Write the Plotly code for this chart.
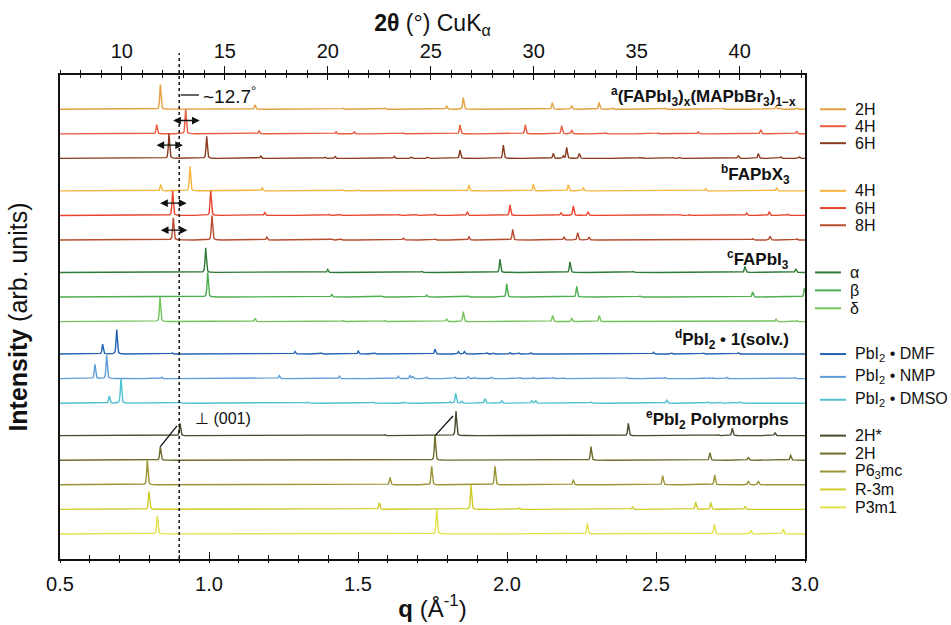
import numpy as np
import plotly.graph_objects as go

# ---------------------------------------------------------------------------
# Peak tables: position q (1/Å) and relative intensity for each pattern
# ---------------------------------------------------------------------------
# (a) (FAPbI3)x(MAPbBr3)1-x hexagonal polytypes
mix_2h_q = [0.8367, 1.1544, 1.4508, 1.5906, 1.7975, 1.8534, 2.152, 2.217, 2.309, 2.3546, 2.530, 2.7259, 2.9027, 2.916, 2.972]
mix_2h_i = [1.0, 0.17, 0.05, 0.05, 0.13, 0.47, 0.27, 0.15, 0.28, 0.05, 0.04, 0.04, 0.12, 0.05, 0.05]
mix_4h_q = [0.8244, 0.9217, 1.1678, 1.4262, 1.4877, 1.652, 1.8423, 2.0615, 2.1835, 2.217, 2.331, 2.5057, 2.642, 2.8513, 2.972]
mix_4h_i = [0.37, 1.0, 0.12, 0.08, 0.08, 0.04, 0.37, 0.37, 0.33, 0.15, 0.05, 0.04, 0.08, 0.17, 0.10]
mix_6h_q = [0.8658, 0.9923, 1.1735, 1.3893, 1.4228, 1.6218, 1.680, 1.7326, 1.8423, 1.9876, 2.1554, 2.189, 2.2003, 2.2426, 2.4463, 2.457, 2.558, 2.5805, 2.7762, 2.8433, 2.9185, 2.981]
mix_6h_i = [1.0, 0.9, 0.10, 0.05, 0.08, 0.08, 0.05, 0.04, 0.34, 0.54, 0.20, 0.10, 0.45, 0.20, 0.04, 0.04, 0.04, 0.04, 0.12, 0.20, 0.06, 0.06]

# (b) FAPbX3 hexagonal polytypes
fax_4h_q = [0.8377, 0.9362, 1.1789, 1.4508, 1.501, 1.8725, 2.0883, 2.2057, 2.256, 2.3624, 2.6667, 2.905]
fax_4h_i = [0.26, 1.0, 0.12, 0.04, 0.04, 0.24, 0.27, 0.24, 0.12, 0.03, 0.08, 0.12]
fax_6h_q = [0.878, 1.0057, 1.187, 1.4037, 1.4396, 1.6386, 1.6946, 1.7584, 1.8668, 2.010, 2.1812, 2.2226, 2.2718, 2.3624, 2.5805, 2.6118, 2.8043, 2.880, 2.942]
fax_6h_i = [1.0, 1.0, 0.12, 0.04, 0.04, 0.04, 0.04, 0.05, 0.15, 0.43, 0.12, 0.39, 0.15, 0.03, 0.04, 0.04, 0.10, 0.15, 0.05]
fax_8h_q = [0.8802, 1.010, 1.1936, 1.4117, 1.442, 1.652, 1.7584, 1.8725, 2.0191, 2.1913, 2.2373, 2.2752, 2.368, 2.491, 2.6252, 2.8245, 2.8826, 2.972]
fax_8h_i = [0.9, 1.0, 0.12, 0.04, 0.04, 0.08, 0.04, 0.13, 0.43, 0.12, 0.30, 0.12, 0.03, 0.03, 0.03, 0.06, 0.15, 0.05]

# (c) FAPbI3 phases
fai_alpha_q = [0.9889, 1.3983, 1.7137, 1.9765, 2.2114, 2.4239, 2.7987, 2.9688]
fai_alpha_i = [1.0, 0.12, 0.05, 0.54, 0.43, 0.04, 0.24, 0.15]
fai_beta_q = [0.9956, 1.4117, 1.5795, 1.7305, 1.8701, 1.999, 2.2339, 2.4463, 2.8245, 2.998]
fai_beta_i = [1.0, 0.10, 0.04, 0.08, 0.04, 0.54, 0.43, 0.04, 0.20, 0.35]
fai_delta_q = [0.8356, 1.1544, 1.4508, 1.5906, 1.7975, 1.8534, 2.1533, 2.217, 2.3097, 2.9027, 2.972]
fai_delta_i = [1.0, 0.13, 0.04, 0.04, 0.10, 0.40, 0.25, 0.13, 0.25, 0.10, 0.05]

# (d) PbI2 solvates
solv_dmf_q = [0.6431, 0.6903, 0.8769, 1.0895, 1.1432, 1.2886, 1.378, 1.501, 1.557, 1.6185, 1.6633, 1.7584, 1.8366, 1.8567, 1.932, 1.954, 2.010, 2.038, 2.0794, 2.491, 2.5526, 2.6588, 2.7762]
solv_dmf_i = [0.40, 1.0, 0.05, 0.03, 0.03, 0.10, 0.04, 0.12, 0.04, 0.03, 0.03, 0.20, 0.10, 0.10, 0.05, 0.04, 0.06, 0.05, 0.06, 0.07, 0.04, 0.04, 0.05]
solv_nmp_q = [0.6174, 0.6566, 0.8412, 1.2359, 1.3165, 1.4372, 1.4955, 1.5682, 1.6353, 1.6745, 1.6834, 1.7305, 1.8255, 1.8701, 1.8926, 1.9486, 2.0436, 2.0883, 2.1554, 2.189, 2.4016, 2.530, 2.681, 2.6924, 2.737, 2.9664]
solv_nmp_i = [0.58, 0.95, 0.06, 0.12, 0.03, 0.10, 0.03, 0.03, 0.10, 0.12, 0.08, 0.06, 0.06, 0.08, 0.05, 0.06, 0.05, 0.05, 0.05, 0.03, 0.05, 0.05, 0.04, 0.04, 0.06, 0.05]
solv_dmso_q = [0.6655, 0.7047, 0.9027, 1.1298, 1.3312, 1.5493, 1.6577, 1.8087, 1.8278, 1.848, 1.9262, 1.9822, 2.0829, 2.0963, 2.2226, 2.2809, 2.4352, 2.5359, 2.6755, 2.7148, 2.7819]
solv_dmso_i = [0.30, 1.0, 0.04, 0.03, 0.04, 0.05, 0.04, 0.06, 0.40, 0.08, 0.18, 0.10, 0.10, 0.10, 0.03, 0.05, 0.03, 0.12, 0.05, 0.04, 0.05]

# (e) PbI2 polymorphs
pbi_2hs_q = [0.9027, 1.5906, 1.8289, 2.4071, 2.7091, 2.7561, 2.8993]
pbi_2hs_i = [0.50, 0.04, 1.0, 0.50, 0.04, 0.30, 0.12]
pbi_2h_q = [0.8367, 1.5514, 1.680, 1.7584, 2.2819, 2.5134, 2.681, 2.8097, 2.952]
pbi_2h_i = [0.55, 0.03, 0.03, 1.0, 0.55, 0.03, 0.30, 0.12, 0.20]
pbi_p63mc_q = [0.793, 1.6074, 1.7473, 1.9597, 2.2226, 2.3792, 2.5224, 2.6969, 2.8097, 2.8433]
pbi_p63mc_i = [1.0, 0.30, 0.75, 0.75, 0.20, 0.03, 0.37, 0.40, 0.15, 0.15]
pbi_r3m_q = [0.7987, 1.5715, 1.8792, 2.0413, 2.4215, 2.6332, 2.6836, 2.7987]
pbi_r3m_i = [0.72, 0.27, 1.0, 0.06, 0.10, 0.30, 0.28, 0.12]
pbi_p3m1_q = [0.8266, 1.7641, 1.8198, 1.8849, 1.954, 2.0268, 2.105, 2.1869, 2.2695, 2.3567, 2.4463, 2.5359, 2.6309, 2.6956, 2.8188, 2.9272]
pbi_p3m1_i = [0.73, 1.0, 0.03, 0.03, 0.03, 0.03, 0.03, 0.03, 0.43, 0.03, 0.03, 0.03, 0.03, 0.40, 0.15, 0.20]

# Group headings and legend entries
group_titles = [
    "<sup>a</sup>(FAPbI<sub>3</sub>)<sub>x</sub>(MAPbBr<sub>3</sub>)<sub>1−x</sub>",
    "<sup>b</sup>FAPbX<sub>3</sub>",
    "<sup>c</sup>FAPbI<sub>3</sub>",
    "<sup>d</sup>PbI<sub>2</sub> • 1(solv.)",
    "<sup>e</sup>PbI<sub>2</sub> Polymorphs",
]
groups = [
    [("2H", "#E3A040", mix_2h_q, mix_2h_i),
     ("4H", "#EA5A3C", mix_4h_q, mix_4h_i),
     ("6H", "#8A3A1E", mix_6h_q, mix_6h_i)],
    [("4H", "#F6B43E", fax_4h_q, fax_4h_i),
     ("6H", "#E8432C", fax_6h_q, fax_6h_i),
     ("8H", "#B84C30", fax_8h_q, fax_8h_i)],
    [("α", "#2F7A36", fai_alpha_q, fai_alpha_i),
     ("β", "#4DAE52", fai_beta_q, fai_beta_i),
     ("δ", "#74C45C", fai_delta_q, fai_delta_i)],
    [("PbI<sub>2</sub> • DMF", "#2263B2", solv_dmf_q, solv_dmf_i),
     ("PbI<sub>2</sub> • NMP", "#5E9DD8", solv_nmp_q, solv_nmp_i),
     ("PbI<sub>2</sub> • DMSO", "#4FC1CF", solv_dmso_q, solv_dmso_i)],
    [("2H*", "#4A4A2C", pbi_2hs_q, pbi_2hs_i),
     ("2H", "#6F6C2C", pbi_2h_q, pbi_2h_i),
     ("P6<sub>3</sub>mc", "#9B9436", pbi_p63mc_q, pbi_p63mc_i),
     ("R-3m", "#CFCC2A", pbi_r3m_q, pbi_r3m_i),
     ("P3m1", "#E3E14C", pbi_p3m1_q, pbi_p3m1_i)],
]

# ---------------------------------------------------------------------------
# Rendering helpers
# ---------------------------------------------------------------------------
Q_LO, Q_HI = 0.5, 3.0
FWHM = 0.005          # instrument-limited peak width (1/Å)
ETA = 0.5             # pseudo-Voigt Lorentzian fraction
GROUP_GAP = 0.32      # extra spacing between groups (in stacking units)
FONT = "Liberation Sans, Arial, Helvetica, sans-serif"


def pattern(centres, heights):
    base = np.linspace(Q_LO, Q_HI, 5001)
    q = np.union1d(base, [c for c in centres if Q_LO <= c <= Q_HI])
    y = np.zeros_like(q)
    for c, h in zip(centres, heights):
        d = (q - c) / (FWHM / 2)
        y += h * (ETA / (1 + d ** 2) + (1 - ETA) * np.exp(-np.log(2) * d ** 2))
    return q, y


fig = go.Figure()

baselines = {}   # (group index, item index) -> vertical offset
k = 0
for g, items in enumerate(groups):
    for j, (label, colour, qs, ints) in enumerate(items):
        off = -(k + GROUP_GAP * g)
        baselines[(g, j)] = off
        qq, yy = pattern(qs, ints)
        fig.add_trace(go.Scatter(
            x=qq, y=yy + off, mode="lines",
            line=dict(color=colour, width=1.4),
            name=label, showlegend=False, hoverinfo="skip"))
        k += 1

y_bottom = baselines[(4, 4)] - 1.02
y_top = 1.394

# placeholder traces so the auxiliary tick axes get drawn
for ax in ("x2", "x3", "x4"):
    fig.add_trace(go.Scatter(x=[None], y=[None], xaxis=ax, yaxis="y",
                             showlegend=False, hoverinfo="skip"))

shapes = []
annotations = []

# --- hand-made legend at the right, one block per group --------------------
legend_step = [0.69, 0.70, 0.73, 0.93, 0.73]
legend_shift = [0, 0, -5, 0, 0]  # px
px = 1.0 / 745.0
for g, items in enumerate(groups):
    y0 = baselines[(g, 0)]
    for j, (label, colour, qs, ints) in enumerate(items):
        yy = y0 - j * legend_step[g]
        xs = (760 + legend_shift[g]) * px
        shapes.append(dict(type="line", xref="paper", yref="y",
                           x0=xs, x1=xs + 26 * px, y0=yy, y1=yy,
                           line=dict(color=colour, width=2)))
        annotations.append(dict(xref="paper", yref="y", x=xs + 33 * px, y=yy,
                                text=label, showarrow=False, xanchor="left",
                                yanchor="middle", font=dict(size=16, color="#111")))

# --- group headings ----------------------------------------------------------
heading_dy = [0.50, 0.68, 0.52, 0.58, 0.65]
heading_x = [738, 732, 731, 731, 731]
for g, title in enumerate(group_titles):
    annotations.append(dict(xref="paper", yref="y", x=heading_x[g] * px,
                            y=baselines[(g, 0)] + heading_dy[g],
                            text="<b>" + title + "</b>", showarrow=False,
                            xanchor="right", yanchor="middle",
                            font=dict(size=17, color="#111")))

# --- q = 0.9 reference (12.7° in 2θ) ---------------------------------------
shapes.append(dict(type="line", xref="x", yref="paper", x0=0.9, x1=0.9,
                   y0=0, y1=1.045, layer="above",
                   line=dict(color="#111", width=1.5, dash="dot")))
shapes.append(dict(type="line", xref="x", yref="y", x0=0.905, x1=0.966,
                   y0=0.58, y1=0.58, line=dict(color="#111", width=1.3)))
annotations.append(dict(xref="x", yref="y", x=0.972, y=0.58,
                        text="~12.7<sup>°</sup>", showarrow=False,
                        xanchor="left", yanchor="middle",
                        font=dict(size=19, color="#111")))

# --- double arrows marking the low-angle shift of the polytypes -------------
arrow_marks = [((0, 1), 0.9217, 0.54), ((0, 2), 0.8658, 0.54),
               ((1, 1), 0.878, 0.50), ((1, 2), 0.8802, 0.40)]
for key, qc, h in arrow_marks:
    yy = baselines[key] + h
    annotations.append(dict(xref="x", yref="y", axref="x", ayref="y",
                            x=qc + 0.047, y=yy, ax=qc - 0.047, ay=yy,
                            text="", showarrow=True, arrowhead=2,
                            arrowside="end+start", arrowsize=1.1,
                            arrowwidth=1.4, arrowcolor="#111",
                            standoff=0, startstandoff=0))

# --- tie lines linking 2H reflections with the 2H* pattern -----------------
b2h, b2hs = baselines[(4, 1)], baselines[(4, 0)]
for q_a, h_a, q_b, h_b in [(0.8367, 0.55, 0.9027, 0.50), (1.7584, 1.0, 1.8289, 1.0)]:
    shapes.append(dict(type="line", xref="x", yref="y",
                       x0=q_a, y0=b2h + h_a, x1=q_b - 0.01, y1=b2hs + 0.8 * h_b,
                       line=dict(color="#111", width=1.3)))
annotations.append(dict(xref="x", yref="y", x=0.945, y=b2hs + 0.7,
                        text="⊥ (001)", showarrow=False, xanchor="left",
                        yanchor="middle", font=dict(size=16, color="#111")))

axis_common = dict(showgrid=False, zeroline=False, linecolor="#111",
                   tickcolor="#111", tickwidth=1.3, automargin=False)

fig.update_layout(
    width=951, height=625,
    margin=dict(l=60, r=146, t=75, b=66, autoexpand=False),
    paper_bgcolor="white", plot_bgcolor="white",
    font=dict(family=FONT, color="#111"),
    showlegend=False,
    shapes=shapes, annotations=annotations,
    xaxis=dict(range=[Q_LO, Q_HI], tickvals=[0.5, 1.0, 1.5, 2.0, 2.5, 3.0],
               ticktext=["0.5", "1.0", "1.5", "2.0", "2.5", "3.0"],
               ticks="inside", ticklen=7, ticklabelstandoff=6,
               minor=dict(dtick=0.1, tick0=0.5, ticks="inside", ticklen=4,
                          tickcolor="#111", tickwidth=1.2),
               showline=True, linewidth=1.5, mirror=False,
               tickfont=dict(size=20),
               title=dict(text="<b>q</b> (Å<sup>-1</sup>)", font=dict(size=24),
                          standoff=6),
               **axis_common),
    xaxis3=dict(range=[Q_LO, Q_HI], overlaying="x", anchor="y", side="bottom",
                tickvals=[0.5, 1.0, 1.5, 2.0, 2.5, 3.0], ticks="outside",
                ticklen=3, showticklabels=False,
                minor=dict(dtick=0.1, tick0=0.5, ticks="outside", ticklen=3,
                           tickcolor="#111", tickwidth=1.2),
                showline=False, **axis_common),
    xaxis2=dict(range=[7, 43.17], overlaying="x", anchor="y", side="top",
                tick0=0, dtick=5, ticks="outside", ticklen=7,
                minor=dict(dtick=1, ticks="outside", ticklen=3,
                           tickcolor="#111", tickwidth=1.2),
                showline=True, linewidth=1.5, tickfont=dict(size=20),
                title=dict(text="<b>2θ</b> (°) CuK<sub>α</sub>", font=dict(size=23),
                           standoff=2),
                **axis_common),
    xaxis4=dict(range=[7, 43.17], overlaying="x", anchor="y", side="top",
                tick0=0, dtick=5, ticks="inside", ticklen=5, showticklabels=False,
                minor=dict(dtick=1, ticks="inside", ticklen=3,
                           tickcolor="#111", tickwidth=1.2),
                showline=False, **axis_common),
    yaxis=dict(range=[y_bottom, y_top], showticklabels=False, ticks="",
               showline=True, mirror=True, linewidth=1.5, linecolor="#111",
               showgrid=False, zeroline=False, automargin=False,
               title=dict(text="<b>Intensity</b> (arb. units)", font=dict(size=25),
                          standoff=24)),
)

fig.write_html("out.html")
